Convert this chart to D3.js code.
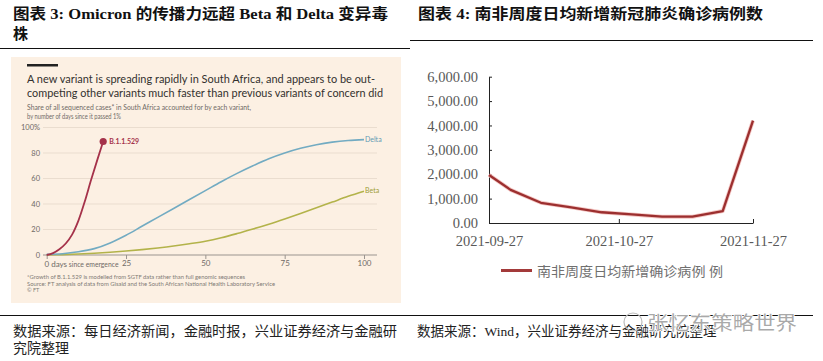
<!DOCTYPE html>
<html><head><meta charset="utf-8">
<script src="https://cdnjs.cloudflare.com/ajax/libs/d3/7.8.5/d3.min.js"></script>
<style>body{margin:0;background:#fff}svg{display:block}</style>
</head><body>
<svg id="c" width="823" height="361"></svg>
<script>
// ---------- data: left chart (FT) ----------
const omicronDays  = [0, 2, 4, 6, 8, 10, 12, 14, 16, 17.8];
const omicronShare = [0, 1.5, 4.5, 9, 16, 27, 42, 59, 75, 89];
const deltaDays  = [0, 5, 10, 15, 20, 25, 30, 35, 40, 45, 50, 55, 60, 65, 70, 75, 80, 85, 90, 95, 100];
const deltaShare = [0.5, 1, 2.5, 5, 9.5, 15.5, 22.5, 29.5, 36.5, 43.5, 50.5, 57.5, 64, 70, 75.5, 80, 83.7, 86.5, 88.5, 89.8, 90.5];
const betaDays  = [0, 5, 10, 15, 20, 25, 30, 35, 40, 45, 50, 55, 60, 65, 70, 75, 80, 85, 90, 95, 100];
const betaShare = [0, 0.3, 0.8, 1.4, 2.2, 3.1, 4.2, 5.5, 7, 8.8, 10.8, 13.5, 16.8, 20.4, 24.2, 28.3, 32.6, 37, 41.5, 46, 50];
const ftYTicks = [0, 20, 40, 60, 80, 100];
const ftXTicks = [0, 25, 50, 75, 100];

// ---------- data: right chart ----------
const caseDates = ["2021-09-27","2021-10-02","2021-10-09","2021-10-16","2021-10-23","2021-10-30","2021-11-06","2021-11-13","2021-11-20","2021-11-27"];
const caseValues = [1970, 1360, 830, 640, 440, 350, 260, 260, 490, 4200];
const caseYTicks = [0, 1000, 2000, 3000, 4000, 5000, 6000];
const caseXTicks = ["2021-09-27", "2021-10-27", "2021-11-27"];

const svg = d3.select("#c");
const CJK = "'Liberation Serif','Noto Sans CJK SC',serif";
const SANS = "Lato,'Open Sans',sans-serif";

// ---------- headers ----------
svg.append("text").attr("x", 13).attr("y", 19).attr("font-family", CJK).attr("font-weight", "bold")
  .attr("font-size", 15).attr("fill", "#111").attr("textLength", 375).attr("lengthAdjust", "spacingAndGlyphs")
  .text("图表 3:  Omicron 的传播力远超 Beta 和 Delta 变异毒");
svg.append("text").attr("x", 13).attr("y", 39).attr("font-family", CJK).attr("font-weight", "bold")
  .attr("font-size", 15).attr("fill", "#111").text("株");
svg.append("line").attr("x1", 0).attr("x2", 410).attr("y1", 48.5).attr("y2", 48.5).attr("stroke", "#111").attr("stroke-width", 1.2);

svg.append("text").attr("x", 418).attr("y", 19).attr("font-family", CJK).attr("font-weight", "bold")
  .attr("font-size", 15).attr("fill", "#111").attr("textLength", 345).attr("lengthAdjust", "spacingAndGlyphs")
  .text("图表 4:  南非周度日均新增新冠肺炎确诊病例数");
svg.append("line").attr("x1", 410).attr("x2", 813).attr("y1", 40.5).attr("y2", 40.5).attr("stroke", "#111").attr("stroke-width", 1.2);

// ---------- left FT panel ----------
svg.append("rect").attr("x", 11).attr("y", 57).attr("width", 390).attr("height", 246).attr("fill", "#fcf0e3");
svg.append("rect").attr("x", 27).attr("y", 64).attr("width", 31).attr("height", 2.5).attr("fill", "#222");

svg.append("text").attr("x", 27).attr("y", 82.5).attr("font-family", SANS).attr("font-size", 11.5).attr("fill", "#33302e")
  .attr("textLength", 348).attr("lengthAdjust", "spacingAndGlyphs")
  .text("A new variant is spreading rapidly in South Africa, and appears to be out-");
svg.append("text").attr("x", 27).attr("y", 96.5).attr("font-family", SANS).attr("font-size", 11.5).attr("fill", "#33302e")
  .attr("textLength", 356).attr("lengthAdjust", "spacingAndGlyphs")
  .text("competing other variants much faster than previous variants of concern did");
svg.append("text").attr("x", 27).attr("y", 110).attr("font-family", SANS).attr("font-size", 7.3).attr("fill", "#6f6a66")
  .attr("textLength", 224).attr("lengthAdjust", "spacingAndGlyphs")
  .text("Share of all sequenced cases* in South Africa accounted for by each variant,");
svg.append("text").attr("x", 27).attr("y", 119).attr("font-family", SANS).attr("font-size", 7.3).attr("fill", "#6f6a66")
  .attr("textLength", 94).attr("lengthAdjust", "spacingAndGlyphs")
  .text("by number of days since it passed 1%");

const fx = d3.scaleLinear().domain([0, 100]).range([46.7, 364]);
const fy = d3.scaleLinear().domain([0, 100]).range([255, 127.5]);

const grid = svg.append("g");
ftYTicks.filter(d => d > 0).forEach(t => {
  grid.append("line").attr("x1", 43).attr("x2", 377).attr("y1", fy(t)).attr("y2", fy(t))
    .attr("stroke", "#eaddcf").attr("stroke-width", 1);
});
ftYTicks.forEach(t => {
  grid.append("text").attr("x", 40).attr("y", fy(t)).attr("dy", "0.35em").attr("text-anchor", "end")
    .attr("font-family", SANS).attr("font-size", 7.5).attr("fill", "#6f6a66").text(t === 100 ? "100%" : t);
});
// x axis
const fxAxis = d3.axisBottom(fx).tickValues(ftXTicks).tickSize(4).tickSizeOuter(0).tickFormat(d => d === 0 ? "" : d);
const gx = svg.append("g").attr("transform", "translate(0,255)").call(fxAxis);
gx.select(".domain").attr("d", "M43,0H377").attr("stroke", "#9a948f");
gx.selectAll(".tick line").attr("stroke", "#9a948f");
gx.selectAll(".tick text").attr("font-family", SANS).attr("font-size", 8).attr("fill", "#6f6a66").attr("y", 5);
const zl = svg.append("text").attr("x", 44.5).attr("y", 266.5).attr("font-family", SANS).attr("fill", "#6f6a66");
zl.append("tspan").attr("font-size", 8).text("0 days");
zl.append("tspan").attr("font-size", 6.8).text(" since emergence");

const line = d3.line().x(d => fx(d[0])).y(d => fy(d[1])).curve(d3.curveCatmullRom.alpha(0.5));
const pairs = (a, b) => a.map((d, i) => [d, b[i]]);
svg.append("path").attr("d", line(pairs(betaDays, betaShare))).attr("fill", "none").attr("stroke", "#b3b34a").attr("stroke-width", 1.6);
svg.append("path").attr("d", line(pairs(deltaDays, deltaShare))).attr("fill", "none").attr("stroke", "#72abc2").attr("stroke-width", 1.6);
svg.append("path").attr("d", line(pairs(omicronDays, omicronShare))).attr("fill", "none").attr("stroke", "#a5324a").attr("stroke-width", 1.8);
const oEnd = omicronDays.length - 1;
svg.append("circle").attr("cx", fx(omicronDays[oEnd])).attr("cy", fy(omicronShare[oEnd])).attr("r", 3.6).attr("fill", "#a5324a");
svg.append("text").attr("x", fx(omicronDays[oEnd]) + 6).attr("y", fy(omicronShare[oEnd])).attr("dy", "0.35em")
  .attr("font-family", SANS).attr("font-size", 7).attr("font-weight", "bold").attr("fill", "#a5324a").text("B.1.1.529");
svg.append("text").attr("x", fx(100) + 1).attr("y", fy(deltaShare[deltaShare.length - 1])).attr("dy", "0.3em")
  .attr("font-family", SANS).attr("font-size", 7).attr("fill", "#5f9ab3").text("Delta");
svg.append("text").attr("x", fx(100) + 1).attr("y", fy(betaShare[betaShare.length - 1])).attr("dy", "0.3em")
  .attr("font-family", SANS).attr("font-size", 7).attr("fill", "#9c9c35").text("Beta");

const foot = ["*Growth of B.1.1.529 is modelled from SGTF data rather than full genomic sequences",
  "Source: FT analysis of data from Gisaid and the South African National Health Laboratory Service", "© FT"];
const footW = [218, 248, 0];
foot.forEach((t, i) => {
  const tx = svg.append("text").attr("x", 27).attr("y", 279 + i * 6.5).attr("font-family", SANS)
    .attr("font-size", 5.5).attr("fill", "#807a75").text(t);
  if (footW[i]) tx.attr("textLength", footW[i]).attr("lengthAdjust", "spacingAndGlyphs");
});

// ---------- right chart ----------
const parse = d3.timeParse("%Y-%m-%d");
const rx = d3.scaleTime().domain([parse(caseXTicks[0]), parse(caseXTicks[2])]).range([489, 753]);
const ry = d3.scaleLinear().domain([0, 6000]).range([223, 76.7]);
const SERIF = "'Liberation Serif','Times New Roman',serif";

const ya = svg.append("g").attr("transform", "translate(489,0)")
  .call(d3.axisLeft(ry).tickValues(caseYTicks).tickFormat(d3.format(",.2f")).tickSizeInner(-3).tickSizeOuter(0).tickPadding(11));
ya.select(".domain").attr("stroke", "#222");
ya.selectAll(".tick line").attr("stroke", "#222");
ya.selectAll(".tick text").attr("font-family", SERIF).attr("font-size", 14.5).attr("fill", "#595959");

const xa = svg.append("g").attr("transform", "translate(0,223)")
  .call(d3.axisBottom(rx).tickValues(caseXTicks.map(parse)).tickFormat(d3.timeFormat("%Y-%m-%d")).tickSizeInner(-4).tickSizeOuter(0).tickPadding(13));
xa.select(".domain").attr("stroke", "#222");
xa.selectAll(".tick line").attr("stroke", "#222");
xa.selectAll(".tick text").attr("font-family", SERIF).attr("font-size", 14.5).attr("fill", "#595959");

const rline = d3.line().x((d, i) => rx(parse(caseDates[i]))).y(d => ry(d));
svg.append("path").attr("d", rline(caseValues)).attr("fill", "none").attr("stroke", "#f4c7c4").attr("stroke-width", 4).attr("stroke-linejoin", "round");
svg.append("path").attr("d", rline(caseValues)).attr("fill", "none").attr("stroke", "#9c2f2f").attr("stroke-width", 2.3).attr("stroke-linejoin", "round");

svg.append("line").attr("x1", 501).attr("x2", 532).attr("y1", 270.5).attr("y2", 270.5).attr("stroke", "#a33a3a").attr("stroke-width", 3);
svg.append("text").attr("x", 537).attr("y", 275.5).attr("font-family", CJK).attr("font-size", 13).attr("fill", "#707070")
  .attr("textLength", 186).attr("lengthAdjust", "spacingAndGlyphs").text("南非周度日均新增确诊病例 例");

// ---------- sources ----------
svg.append("line").attr("x1", 0).attr("x2", 410).attr("y1", 315.5).attr("y2", 315.5).attr("stroke", "#111").attr("stroke-width", 1.2);
svg.append("line").attr("x1", 410).attr("x2", 813).attr("y1", 315.5).attr("y2", 315.5).attr("stroke", "#111").attr("stroke-width", 1.2);
svg.append("text").attr("x", 13).attr("y", 336).attr("font-family", CJK).attr("font-size", 13.5).attr("fill", "#222")
  .attr("textLength", 384).attr("lengthAdjust", "spacingAndGlyphs").text("数据来源：每日经济新闻，金融时报，兴业证券经济与金融研");
svg.append("text").attr("x", 13).attr("y", 353).attr("font-family", CJK).attr("font-size", 13.5).attr("fill", "#222")
  .attr("textLength", 56).attr("lengthAdjust", "spacingAndGlyphs").text("究院整理");
svg.append("text").attr("x", 417).attr("y", 336).attr("font-family", CJK).attr("font-size", 13.5).attr("fill", "#222")
  .text("数据来源：Wind，兴业证券经济与金融研究院整理");
// watermark
svg.append("circle").attr("cx", 633).attr("cy", 322).attr("r", 9).attr("fill", "none").attr("stroke", "#bbb").attr("stroke-width", 1.2);
svg.append("text").attr("x", 647).attr("y", 330).attr("font-family", "'Noto Sans CJK SC',sans-serif").attr("font-size", 19)
  .attr("fill", "#9a9a9a").attr("fill-opacity", 0.85).attr("stroke", "#fff").attr("stroke-width", 1.5).attr("paint-order", "stroke")
  .attr("textLength", 150).attr("lengthAdjust", "spacingAndGlyphs").text("张忆东策略世界");
</script>
</body></html>
